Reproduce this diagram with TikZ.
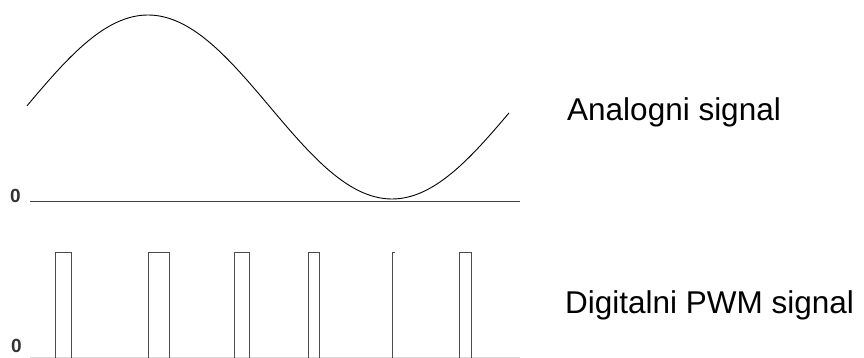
\documentclass[tikz,border=0pt]{standalone}
\usepackage{fontspec}
\setmainfont{Liberation Sans}
\begin{document}
\begin{tikzpicture}[x=1pt,y=-1pt,
  wave/.style={line width=0.9pt,black},
  axisline/.style={line width=1.3pt,black!75},
  faintaxis/.style={line width=0.8pt,black!15},
  pulse/.style={line width=1pt,black!70},
  biglabel/.style={anchor=base west,inner sep=0pt,font=\fontsize{31.5}{36}\selectfont},
  zerolabel/.style={anchor=base west,inner sep=0pt,font=\bfseries\fontsize{19}{21}\selectfont,black!80}]
\useasboundingbox (0,0) rectangle (864,358);
% analog signal
\draw[wave,smooth] plot[domain=27:509,samples=120] (\x,{107-92*cos((\x-148)/488*360)});
\coordinate (a0) at (30,201.5);
\coordinate (a1) at (520,201.5);
\draw[axisline] (a0) -- (a1);
\node[zerolabel] (z1) at (10,202) {0};
\node[biglabel] (t1) at (567,121) {Analogni signal};
% PWM signal
\coordinate (b0) at (30,357.5);
\coordinate (b1) at (520,357.5);
\draw[faintaxis] (b0) -- (b1);
\draw[pulse,line width=1.8pt] (55.5,358) -- (55.5,252);
\draw[pulse] (55.5,252) -- (71,252) -- (71,358);
\draw[pulse] (148.5,358) -- (148.5,252) -- (169.5,252) -- (169.5,358);
\draw[pulse] (234,358) -- (234,252) -- (249,252) -- (249,358);
\draw[pulse] (308,358) -- (308,252) -- (319,252) -- (319,358);
\draw[pulse] (392.5,358) -- (392.5,252) -- (395,252);
\draw[pulse] (459.5,358) -- (459.5,252) -- (471,252) -- (471,358);
\node[zerolabel] (z2) at (11,352) {0};
\node[biglabel] (t2) at (565,313) {Digitalni PWM signal};
\end{tikzpicture}
\end{document}
